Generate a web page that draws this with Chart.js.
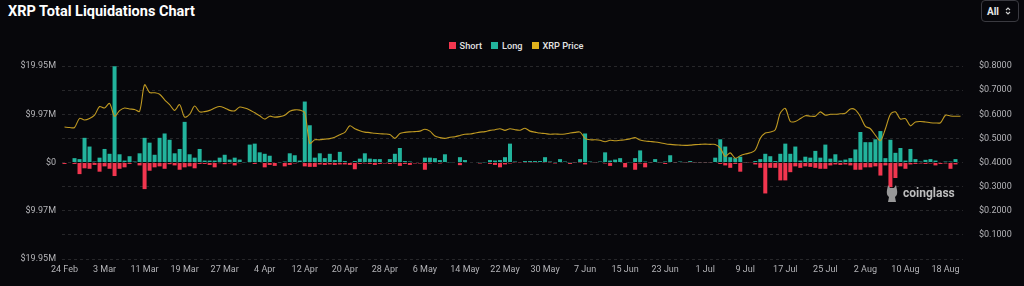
<!DOCTYPE html>
<html>
<head>
<meta charset="utf-8">
<title>XRP Total Liquidations Chart</title>
<script src="https://cdn.jsdelivr.net/npm/chart.js@4.4.1/dist/chart.umd.min.js"></script>
<style>
  html, body { margin: 0; padding: 0; background: #07070b; }
  body { width: 1024px; height: 286px; position: relative; overflow: hidden; font-family: Roboto, 'Noto Sans', sans-serif; }
  .title { position: absolute; left: 8px; top: 2px; color: #fff; font-weight: 700; font-size: 14.5px; line-height: 20px; }
  .range { position: absolute; left: 981px; top: 0px; width: 38px; height: 22px; box-sizing: border-box;
           border: 1px solid #3a3a40; border-radius: 4px; color: #e6e6e6; font-size: 10px; font-weight: 700;
           display: flex; align-items: center; padding-left: 5px; gap: 6px; }
  .legend { position: absolute; top: 39px; left: 4px; width: 1024px; display: flex; justify-content: center; gap: 9px;
            color: #e2e2e2; font-size: 9.2px; font-weight: 500; }
  .legend-item { display: flex; align-items: center; gap: 4px; height: 12px; }
  .legend-color { width: 7px; height: 7px; }
  #chartWrap { position: absolute; left: 0; top: 0; width: 1024px; height: 286px; }
  .mark { position: absolute; left: 885px; top: 183px; display: flex; align-items: center; gap: 4px;
          color: #d2d2d2; font-weight: 700; font-size: 12px; opacity: 0.9; }
</style>
</head>
<body>
<div class="title">XRP Total Liquidations Chart</div>
<div class="range">All
  <svg width="6" height="10" viewBox="0 0 6 10"><path d="M1 4 L3 2 L5 4 M1 6 L3 8 L5 6" stroke="#cfcfcf" stroke-width="1.1" fill="none"/></svg>
</div>
<div class="legend" id="chartLegend"></div>
<div id="chartWrap"><canvas id="liqChart"></canvas></div>
<div class="mark">
  <svg width="14" height="20" viewBox="0 0 14 20"><path d="M3 2 L5 5 L9 5 L11 2 L12 7 Q13 12 10 14 L11 19 L3 19 L4 14 Q1 12 2 7 Z" fill="#a8a8a8"/></svg>
  <span>coinglass</span>
</div>
<script>
// dates: 24 Feb 2024 onward, one bar per day
const startDate = Date.UTC(2024, 1, 24);
const dayCount = 180;
const monthNames = ['Jan','Feb','Mar','Apr','May','Jun','Jul','Aug','Sep','Oct','Nov','Dec'];
const dates = [];
for (let i = 0; i < dayCount; i++) {
  const d = new Date(startDate + i * 86400000);
  dates.push(d.getUTCDate() + ' ' + monthNames[d.getUTCMonth()]);
}

// long liquidations, $M
const longM = [
  0.1, 0.1, 0.9, 0.7, 5.1, 3.3, 0.2, 1.0, 2.8, 1.8,
  19.9, 1.7, 0.4, 1.3, 0.2, 1.9, 5.1, 4.1, 1.6, 5.1,
  6.0, 4.7, 1.9, 2.8, 8.4, 1.7, 1.0, 2.8, 0.4, 0.4,
  0.4, 1.0, 1.6, 0.6, 1.0, 0.6, 0.05, 3.7, 3.9, 2.1,
  1.8, 1.4, 0.1, 0.05, 0.2, 1.9, 1.5, 0.4, 12.6, 7.7,
  1.0, 1.9, 0.9, 1.8, 0.5, 2.2, 0.3, 0.1, 0.3, 0.8,
  1.9, 0.8, 0.7, 0.7, 0.1, 0.7, 1.8, 3.0, 0.3, 0.2,
  0.1, 0.1, 1.0, 1.0, 0.9, 0.5, 1.7, 0.05, 0.1, 1.1,
  0.5, 0.1, 0.1, 0.05, 0.05, 0.5, 0.4, 0.5, 1.1, 3.9,
  0.2, 0.1, 0.3, 0.3, 0.3, 0.3, 1.1, 0.2, 0.05, 0.7,
  0.2, 0.05, 0.05, 0.7, 6.0, 0.2, 0.05, 0.2, 2.1, 0.4,
  0.6, 0.9, 0.1, 0.05, 0.9, 2.5, 0.2, 0.05, 0.7, 0.05,
  0.2, 1.5, 0.05, 0.2, 0.05, 0.3, 0.05, 0.05, 0.05, 0.05,
  1.0, 4.8, 3.3, 1.1, 0.9, 1.2, 0.05, 0.1, 0.3, 0.7,
  1.8, 1.3, 0.3, 1.8, 3.9, 1.8, 3.3, 0.4, 1.2, 1.0,
  2.4, 1.0, 3.7, 0.8, 1.7, 0.4, 0.6, 0.9, 2.7, 6.3,
  4.2, 4.2, 4.8, 6.5, 0.9, 4.7, 2.0, 3.0, 0.4, 2.8,
  0.7, 0.2, 0.55, 0.7, 0.4, 0.1, 0.2, 0.2, 0.7, 0
];

// short liquidations, $M (drawn below zero)
const shortM = [
  0.3, 0.1, 0.3, 2.4, 1.2, 1.3, 0.5, 1.9, 0.8, 1.3,
  2.8, 1.3, 1.0, 0.3, 0.1, 0.6, 5.5, 1.7, 1.0, 0.8,
  1.3, 0.35, 0.6, 1.5, 1.0, 0.8, 1.2, 0.3, 0.3, 0.5,
  1.0, 0.15, 0.35, 0.2, 0.6, 0.15, 0.1, 0.1, 0.3, 0.1,
  1.0, 0.5, 0.7, 0.1, 0.8, 0.5, 0.2, 0.1, 0.8, 0.9,
  0.9, 0.4, 0.5, 0.4, 0.5, 0.4, 0.4, 0.5, 1.4, 0.3,
  0.2, 0.3, 0.5, 0.3, 0.2, 0.3, 0.2, 0.7, 0.3, 0.5,
  0.2, 0.2, 1.5, 0.2, 0.1, 0.2, 0.1, 0.1, 0.1, 0.55,
  0.1, 0.1, 0.1, 0.2, 0.1, 0.3, 0.5, 1.0, 0.4, 0.2,
  0.05, 0.05, 0.05, 0.05, 0.05, 0.1, 0.05, 0.05, 0.2, 0.1,
  0.1, 0.3, 0.05, 0.05, 0.4, 0.1, 0.05, 0.1, 0.2, 0.7,
  0.1, 0.1, 1.0, 0.1, 1.5, 0.2, 1.0, 0.05, 0.1, 0.05,
  0.3, 0.1, 0.05, 0.1, 0.05, 0.05, 0.05, 0.05, 0.05, 0.05,
  0.1, 0.3, 0.6, 1.1, 0.3, 1.9, 0.05, 0.05, 0.4, 1.1,
  6.4, 1.1, 1.1, 3.7, 3.7, 2.0, 0.8, 1.1, 0.8, 0.9,
  1.1, 1.3, 1.3, 0.6, 0.4, 0.5, 0.4, 0.6, 1.5, 1.5,
  1.0, 1.0, 0.8, 2.7, 0.6, 5.1, 3.2, 0.8, 1.3, 0.4,
  0.3, 0.2, 0.3, 0.2, 0.6, 0.3, 0.2, 1.3, 0.4, 0
];

// XRP price, USD
const xrpPrice = [
  0.547, 0.545, 0.545, 0.583, 0.576, 0.582, 0.596, 0.632, 0.626, 0.645,
  0.592, 0.615, 0.626, 0.622, 0.620, 0.612, 0.722, 0.690, 0.689, 0.683,
  0.660, 0.640, 0.616, 0.640, 0.588, 0.600, 0.634, 0.610, 0.611, 0.616,
  0.626, 0.632, 0.626, 0.616, 0.614, 0.630, 0.626, 0.618, 0.606, 0.594,
  0.580, 0.592, 0.588, 0.590, 0.596, 0.612, 0.618, 0.617, 0.606, 0.480,
  0.494, 0.494, 0.497, 0.499, 0.505, 0.515, 0.525, 0.552, 0.540, 0.532,
  0.526, 0.524, 0.521, 0.519, 0.518, 0.516, 0.500, 0.520, 0.525, 0.527,
  0.528, 0.530, 0.538, 0.530, 0.510, 0.503, 0.500, 0.505, 0.507, 0.512,
  0.517, 0.518, 0.522, 0.526, 0.528, 0.533, 0.536, 0.540, 0.533, 0.540,
  0.536, 0.534, 0.542, 0.530, 0.526, 0.522, 0.520, 0.517, 0.518, 0.517,
  0.518, 0.522, 0.525, 0.526, 0.500, 0.494, 0.494, 0.492, 0.486, 0.492,
  0.490, 0.492, 0.494, 0.498, 0.503, 0.493, 0.489, 0.487, 0.485, 0.482,
  0.478, 0.475, 0.473, 0.472, 0.471, 0.472, 0.474, 0.475, 0.476, 0.475,
  0.475, 0.460, 0.425, 0.440, 0.418, 0.428, 0.435, 0.440, 0.452, 0.500,
  0.522, 0.526, 0.536, 0.605, 0.624, 0.570, 0.570, 0.582, 0.594, 0.592,
  0.592, 0.610, 0.596, 0.600, 0.600, 0.602, 0.604, 0.622, 0.618, 0.590,
  0.550, 0.540, 0.513, 0.490, 0.540, 0.600, 0.610, 0.580, 0.582, 0.552,
  0.568, 0.570, 0.568, 0.565, 0.564, 0.565, 0.596, 0.593, 0.592, 0.592
];

// axis ticks
const liqTicks = [19.95, 14.9625, 9.975, 4.9875, 0, -4.9875, -9.975, -14.9625, -19.95];
const liqTickLabels = ['$19.95M', '', '$9.97M', '', '$0', '', '$9.97M', '', '$19.95M'];
const priceTicks = [0.8, 0.7, 0.6, 0.5, 0.4, 0.3, 0.2, 0.1, 0];
const priceTickLabels = ['$0.8000', '$0.7000', '$0.6000', '$0.5000', '$0.4000', '$0.3000', '$0.2000', '$0.1000', ''];
const xLabelEvery = 8;

const colors = { short: '#f2364f', long: '#22b39c', price: '#e0b11c' };

document.addEventListener('DOMContentLoaded', () => {
  if (!window.Chart) return;

  Chart.defaults.color = '#b4b4b8';
  Chart.defaults.font.family = "Roboto, 'Noto Sans', sans-serif";
  Chart.defaults.font.size = 9;

  const ctx = document.getElementById('liqChart');

  const chart = new Chart(ctx, {
    type: 'bar',
    data: {
      labels: dates,
      datasets: [
        {
          type: 'line',
          label: 'XRP Price',
          data: xrpPrice,
          yAxisID: 'y1',
          borderColor: '#c09a22',
          backgroundColor: colors.price,
          borderWidth: 1.1,
          pointRadius: 0,
          tension: 0.3,
          order: 0
        },
        {
          label: 'Short',
          data: shortM.map(v => -v),
          yAxisID: 'y',
          backgroundColor: colors.short,
          stack: 'liq',
          barPercentage: 0.8,
          categoryPercentage: 1.0,
          order: 1
        },
        {
          label: 'Long',
          data: longM,
          yAxisID: 'y',
          backgroundColor: colors.long,
          stack: 'liq',
          barPercentage: 0.8,
          categoryPercentage: 1.0,
          order: 1
        }
      ]
    },
    options: {
      responsive: true,
      maintainAspectRatio: false,
      animation: false,
      layout: { padding: { top: 66, bottom: 3, left: 0, right: 0 } },
      plugins: {
        legend: { display: false },
        tooltip: { enabled: false }
      },
      scales: {
        x: {
          stacked: true,
          grid: { display: false, drawTicks: false },
          border: { display: false },
          ticks: {
            autoSkip: false,
            maxRotation: 0,
            padding: 5,
            color: '#b4b4b8',
            callback: (val, i) => (i % xLabelEvery === 0 ? dates[i] : '')
          },
          afterFit: scale => { scale.height = 24; }
        },
        y: {
          stacked: true,
          position: 'left',
          min: -19.95,
          max: 19.95,
          afterBuildTicks: scale => { scale.ticks = liqTicks.map(v => ({ value: v })); },
          grid: { color: 'rgba(255,255,255,0.13)', drawTicks: false },
          border: { display: false, dash: [3, 3] },
          ticks: {
            padding: 6,
            color: '#b4b4b8',
            callback: (val, i) => liqTickLabels[i]
          },
          afterFit: scale => { scale.width = 62; }
        },
        y1: {
          position: 'right',
          min: 0,
          max: 0.8,
          afterBuildTicks: scale => { scale.ticks = priceTicks.map(v => ({ value: v })); },
          grid: { display: false },
          border: { display: false },
          ticks: {
            padding: 8,
            color: '#b4b4b8',
            callback: (val, i) => priceTickLabels[i]
          },
          afterFit: scale => { scale.width = 61; }
        }
      }
    }
  });

  // HTML legend, Short / Long / XRP Price
  const legendContainer = document.getElementById('chartLegend');
  const legendItems = [
    ['Short', colors.short],
    ['Long', colors.long],
    ['XRP Price', colors.price]
  ];
  legendContainer.innerHTML = legendItems.map(([label, color]) => `
    <div class="legend-item">
      <div class="legend-color" style="background-color: ${color}"></div>
      <span>${label}</span>
    </div>
  `).join('');
});
</script>
</body>
</html>
